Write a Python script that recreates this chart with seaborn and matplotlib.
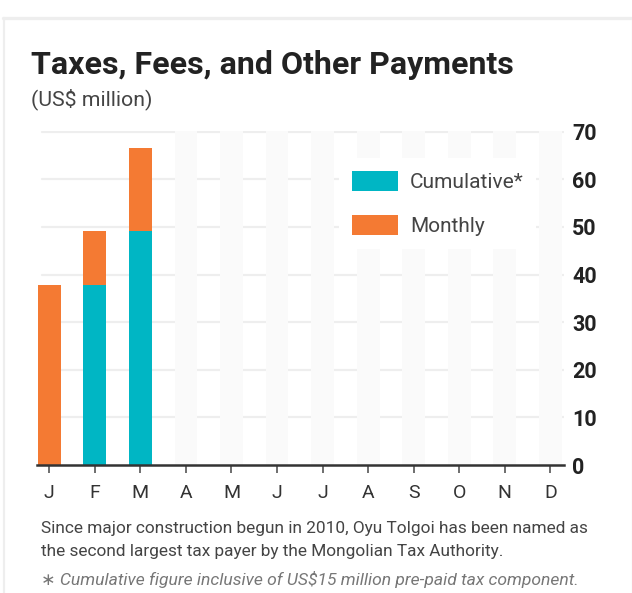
import matplotlib
matplotlib.use("Agg")
import matplotlib.pyplot as plt
from matplotlib.patches import Patch
from matplotlib.lines import Line2D
import seaborn as sns
import pandas as pd
import numpy as np

# ---- data ----
months = ["J", "F", "M", "A", "M ", "J ", "J  ", "A ", "S", "O", "N", "D"]
month_labels = ["J", "F", "M", "A", "M", "J", "J", "A", "S", "O", "N", "D"]
reported = ["J", "F", "M"]
cumulative = [0.0, 37.8, 49.2]
monthly = [37.8, 11.4, 17.4]
yticks = [0, 10, 20, 30, 40, 50, 60, 70]

TEAL = "#00b6c4"
ORANGE = "#f47a33"

sns.set_theme(style="white")
plt.rcParams["font.family"] = ["Roboto", "DejaVu Sans"]

W, H = 632, 593
fig = plt.figure(figsize=(W / 100, H / 100), dpi=100)
fig.patch.set_facecolor("white")

def fx(px):
    return px / W

def fy(py):
    return 1 - py / H

ax = fig.add_axes([fx(37), fy(465), fx(564) - fx(37), fy(131) - fy(465)])
ax.set_facecolor("white")

df = pd.DataFrame({
    "month": reported,
    "cumulative": cumulative,
    "monthly": monthly,
})
df["total"] = df["cumulative"] + df["monthly"]

# horizontal gridlines
for t in yticks[1:]:
    ax.axhline(t, color="#eeeeee", lw=1.6, zorder=0, xmin=0.01, xmax=1)

# background columns for months without data (above gridlines)
for i, m in enumerate(months):
    if m not in reported:
        ax.axvspan(i - 0.25, i + 0.25, color="#fafafa", zorder=1, lw=0)

sns.barplot(data=df, x="month", y="total", order=months, color=ORANGE,
            width=0.5, saturation=1, ax=ax, zorder=3, linewidth=0)
sns.barplot(data=df, x="month", y="cumulative", order=months, color=TEAL,
            width=0.5, saturation=1, ax=ax, zorder=4, linewidth=0)

ax.set_xlim(-0.27, 11.3)
ax.set_ylim(0, 70.15)
ax.set_xlabel("")
ax.set_ylabel("")

for s in ["top", "left", "right"]:
    ax.spines[s].set_visible(False)
ax.spines["bottom"].set_color("#333333")
ax.spines["bottom"].set_linewidth(1.8)
ax.spines["bottom"].set_zorder(6)

ax.set_xticks(range(len(months)))
ax.set_xticklabels(month_labels, fontsize=14, color="#333333")
ax.tick_params(axis="x", bottom=True, length=6, width=1.2, color="#555555",
               pad=8)

ax.yaxis.tick_right()
ax.set_yticks(yticks)
ax.set_yticklabels([str(v) for v in yticks], fontsize=15.5, fontweight="bold",
                   color="#222222")
ax.tick_params(axis="y", right=False, left=False, length=0, pad=6)

# legend
handles = [Patch(facecolor=TEAL, edgecolor="none", label="Cumulative*"),
           Patch(facecolor=ORANGE, edgecolor="none", label="Monthly")]
leg = fig.legend(handles=handles, loc="upper left",
                 bbox_to_anchor=(fx(339), fy(158)), frameon=True,
                 fontsize=15, handlelength=2.25, handleheight=1.15,
                 handletextpad=0.55, labelspacing=1.1, borderpad=0.6,
                 borderaxespad=0, fancybox=False, framealpha=1)
leg.get_frame().set_facecolor("white")
leg.get_frame().set_edgecolor("none")
for t in leg.get_texts():
    t.set_color("#444444")

# outer frame lines
fig.add_artist(Line2D([fx(3), fx(640)], [fy(17.5), fy(17.5)], color="#eeeeee",
                      lw=2.4, transform=fig.transFigure))
fig.add_artist(Line2D([fx(4), fx(4)], [fy(17.5), fy(600)], color="#eeeeee",
                      lw=1.6, transform=fig.transFigure))
fig.add_artist(Line2D([fx(631.5), fx(631.5)], [fy(17.5), fy(600)], color="#f4f4f4",
                      lw=1.0, transform=fig.transFigure))

# texts
fig.text(fx(31), fy(73.5), "Taxes, Fees, and Other Payments", fontsize=23.1,
         fontweight="bold", color="#222222", va="baseline", ha="left")
fig.text(fx(31), fy(105), "(US$ million)", fontsize=15.3, color="#444444",
         va="baseline", ha="left")
fig.text(fx(41), fy(533), "Since major construction begun in 2010, Oyu Tolgoi has been named as",
         fontsize=12.4, color="#444444", va="baseline", ha="left")
fig.text(fx(41), fy(556), "the second largest tax payer by the Mongolian Tax Authority.",
         fontsize=12.4, color="#444444", va="baseline", ha="left")
fig.text(fx(41), fy(585), "∗ Cumulative figure inclusive of US$15 million pre-paid tax component.",
         fontsize=12.6, color="#777777", style="italic", va="baseline", ha="left")

fig.savefig("out.png", dpi=100, facecolor="white")
